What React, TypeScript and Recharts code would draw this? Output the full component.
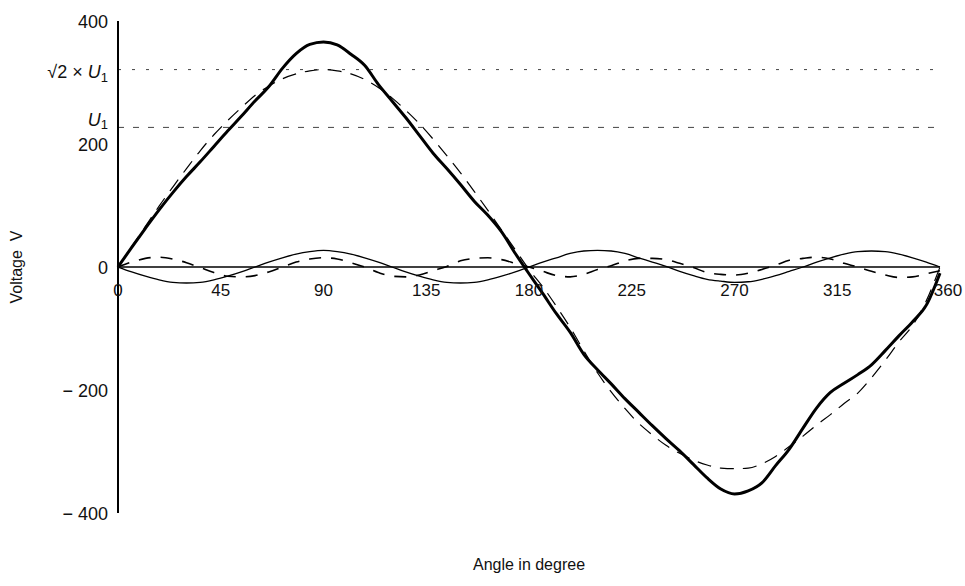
import { LineChart, Line, XAxis, YAxis, ReferenceLine, Label } from "recharts";

// angle in degree, sampled every 6°
const ANGLES = [
  0, 6, 12, 18, 24, 30, 36, 42, 48, 54,
  60, 66, 72, 78, 84, 90, 96, 102, 108, 114,
  120, 126, 132, 138, 144, 150, 156, 162, 168, 174,
  180, 186, 192, 198, 204, 210, 216, 222, 228, 234,
  240, 246, 252, 258, 264, 270, 276, 282, 288, 294,
  300, 306, 312, 318, 324, 330, 336, 342, 348, 354,
  360,
];

// distorted voltage (thick solid)
const DISTORTED = [
  0, 32, 63, 93, 121, 147, 171, 196, 221, 245,
  270, 293, 323, 347, 362, 366, 361, 346, 328, 297,
  270, 243, 214, 185, 160, 134, 107, 84, 57, 22,
  -11, -43, -76, -106, -142, -167, -190, -214, -236, -258,
  -279, -299, -321, -343, -361, -369, -364, -351, -323, -296,
  -262, -229, -204, -189, -175, -159, -136, -112, -89, -62,
  -10,
];

// fundamental (dashed)
const FUNDAMENTAL = [
  0, 33, 66, 99, 130, 160, 189, 215, 238, 259,
  279, 294, 306, 314, 319, 321, 319, 314, 305, 292,
  275, 255, 233, 208, 181, 153, 123, 92, 60, 28,
  -4, -32, -64, -98, -136, -172, -203, -230, -254, -273,
  -290, -303, -314, -322, -327, -328, -327, -320, -308, -292,
  -275, -257, -240, -222, -205, -180, -152, -122, -95, -55,
  0,
];

// 3rd harmonic (thin solid)
const THIRD = [
  0, -8, -15, -21, -25, -26, -25, -21, -15, -8,
  0, 8, 15, 21, 25, 27, 25, 21, 15, 8,
  0, -8, -15, -21, -25, -26, -25, -21, -15, -8,
  0, 8, 15, 22, 26, 27, 26, 22, 15, 8,
  1, -7, -14, -20, -23, -25, -24, -20, -14, -7,
  0, 8, 15, 21, 25, 26, 25, 21, 15, 8,
  0,
];

// 5th harmonic (dashed)
const FIFTH = [
  0, 8, 14, 16, 13, 7, -1, -9, -15, -16,
  -14, -8, 0, 8, 13, 15, 13, 7, 0, -9,
  -15, -16, -13, -6, 1, 10, 14, 15, 12, 6,
  0, -7, -14, -16, -12, -4, 2, 10, 14, 14,
  12, 6, -1, -9, -12, -13, -10, -4, 3, 11,
  14, 16, 13, 6, 0, -7, -13, -17, -16, -11,
  -6,
];

const U1 = 227;
const U1_PEAK = 321;

const X_TICKS = [0, 45, 90, 135, 180, 225, 270, 315, 360];
const Y_TICKS = [-400, -200, 0, 200, 400];

const data = ANGLES.map((a, i) => ({
  angle: a,
  distorted: DISTORTED[i],
  fundamental: FUNDAMENTAL[i],
  third: THIRD[i],
  fifth: FIFTH[i],
}));

const W = 965;
const H = 586;
const TOP = 21;
const LEFT = 118;
const PLOT_H = 492;
const ZERO_Y = TOP + PLOT_H / 2;
const FONT = "'Liberation Sans', Arial, sans-serif";

function AngleTick(props: any) {
  const { x, payload } = props;
  const v = payload.value;
  const dx = v === 360 ? 8 : 0;
  return (
    <text x={x + dx} y={ZERO_Y + 29} textAnchor="middle" fontSize={17} fontFamily={FONT} fill="#111">
      {v}
    </text>
  );
}

function VoltTick(props: any) {
  const { x, y, payload } = props;
  const v = payload.value;
  const txt = v < 0 ? `\u2212 ${-v}` : `${v}`;
  return (
    <text x={x - 2} y={y + 7} textAnchor="end" fontSize={18} fontFamily={FONT} fill="#111">
      {txt}
    </text>
  );
}

function PeakLabel(props: any) {
  const { viewBox } = props;
  return (
    <text x={viewBox.x - 10} y={viewBox.y + 8} textAnchor="end" fontSize={18} fontFamily={FONT} fill="#111">
      {"\u221A2 \u00D7 "}
      <tspan fontStyle="italic">U</tspan>
      <tspan fontSize={13} dy={4}>1</tspan>
    </text>
  );
}

function U1Label(props: any) {
  const { viewBox } = props;
  return (
    <text x={viewBox.x - 10} y={viewBox.y - 1} textAnchor="end" fontSize={18} fontFamily={FONT} fill="#111">
      <tspan fontStyle="italic">U</tspan>
      <tspan fontSize={13} dy={3}>1</tspan>
    </text>
  );
}

function VoltTitle() {
  return (
    <text
      x={22}
      y={ZERO_Y}
      transform={`rotate(-90 22 ${ZERO_Y})`}
      textAnchor="middle"
      fontSize={16}
      fontFamily={FONT}
      fill="#111"
    >
      {"Voltage\u00A0\u00A0V"}
    </text>
  );
}

export default function App() {
  return (
    <div style={{ position: "absolute", left: 0, top: 0, width: W, height: H, background: "#fff" }}>
      <LineChart width={W} height={H} data={data} margin={{ top: TOP, right: 25, left: 0, bottom: 0 }}>
        <XAxis
          type="number"
          dataKey="angle"
          domain={[0, 360]}
          ticks={X_TICKS}
          axisLine={false}
          tickLine={false}
          tick={<AngleTick />}
          height={H - TOP - PLOT_H}
          interval={0}
        >
          <Label
            value="Angle in degree"
            position="insideBottom"
            offset={16}
            fontSize={16}
            fontFamily={FONT}
            fill="#111"
          />
        </XAxis>
        <YAxis
          type="number"
          domain={[-400, 400]}
          ticks={Y_TICKS}
          width={LEFT}
          axisLine={{ stroke: "#000", strokeWidth: 2 }}
          tickLine={false}
          tick={<VoltTick />}
          interval={0}
        >
          <Label content={<VoltTitle />} />
        </YAxis>
        <ReferenceLine y={U1_PEAK} stroke="#444" strokeWidth={1} strokeDasharray="3 11" label={<PeakLabel />} />
        <ReferenceLine y={U1} stroke="#444" strokeWidth={1} strokeDasharray="6 9" label={<U1Label />} />
        <ReferenceLine y={0} stroke="#000" strokeWidth={1.5} />
        <Line
          dataKey="third"
          type="monotone"
          stroke="#000"
          strokeWidth={1.3}
          dot={false}
          isAnimationActive={false}
        />
        <Line
          dataKey="fifth"
          type="monotone"
          stroke="#000"
          strokeWidth={1.6}
          strokeDasharray="12 10"
          dot={false}
          isAnimationActive={false}
        />
        <Line
          dataKey="fundamental"
          type="monotone"
          stroke="#000"
          strokeWidth={1.2}
          strokeDasharray="14 9"
          dot={false}
          isAnimationActive={false}
        />
        <Line
          dataKey="distorted"
          type="monotone"
          stroke="#000"
          strokeWidth={3}
          dot={false}
          isAnimationActive={false}
        />
      </LineChart>
    </div>
  );
}
